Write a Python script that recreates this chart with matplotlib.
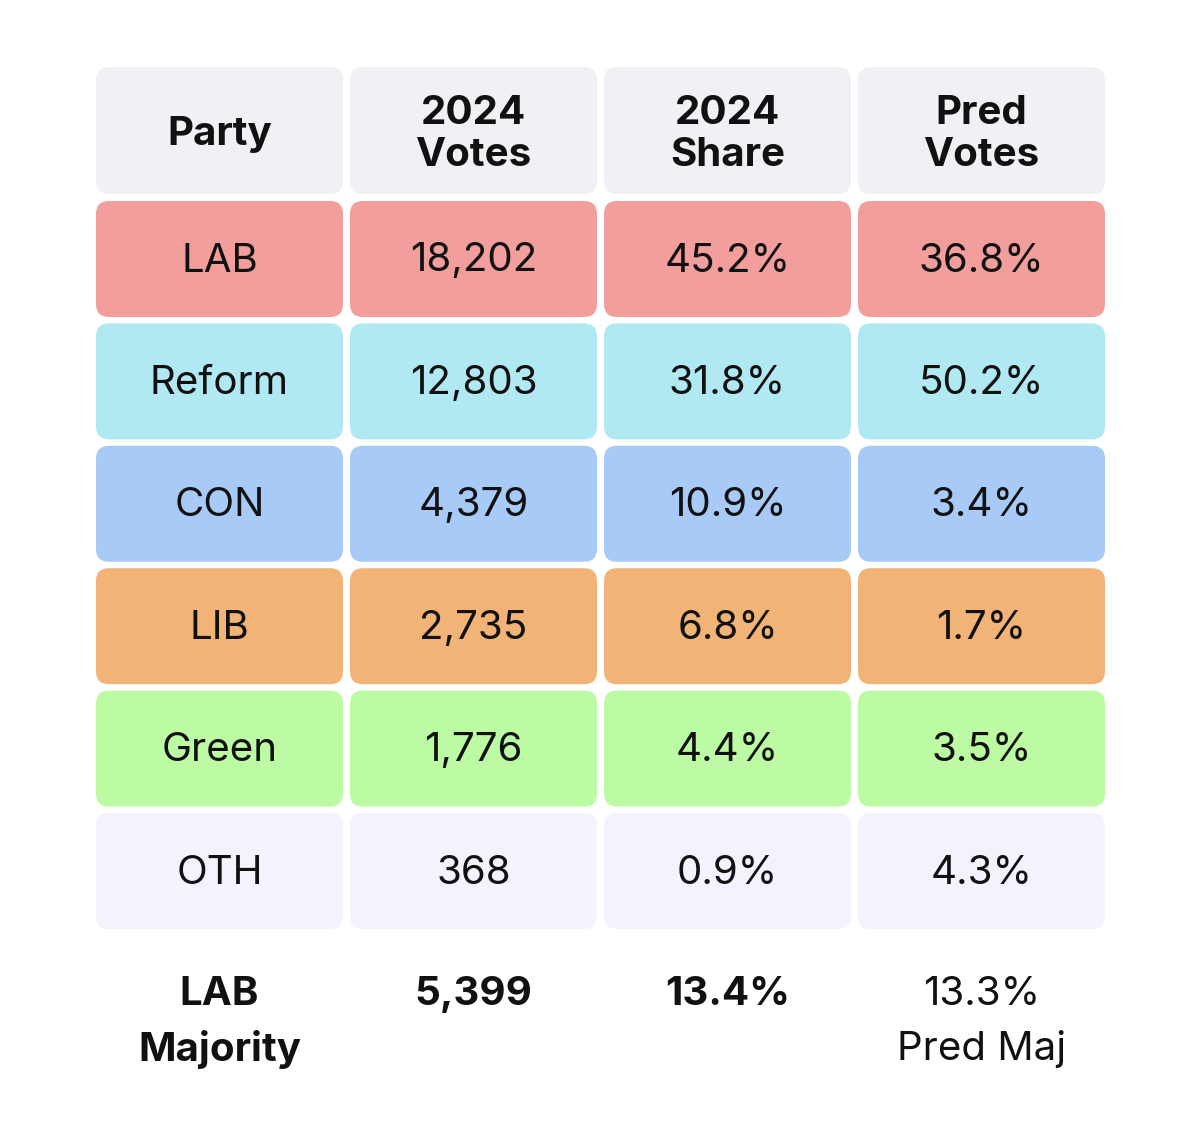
import matplotlib
matplotlib.use("Agg")
import matplotlib.pyplot as plt
from matplotlib.patches import FancyBboxPatch

plt.rcParams['font.family'] = ['Inter', 'DejaVu Sans']

headers = ["Party", "2024\nVotes", "2024\nShare", "Pred\nVotes"]
parties = ["LAB", "Reform", "CON", "LIB", "Green", "OTH"]
votes_2024 = ["18,202", "12,803", "4,379", "2,735", "1,776", "368"]
share_2024 = ["45.2%", "31.8%", "10.9%", "6.8%", "4.4%", "0.9%"]
pred_votes = ["36.8%", "50.2%", "3.4%", "1.7%", "3.5%", "4.3%"]
row_colors = ["#F29E9D", "#B1E9F3", "#A7CBF6", "#F2B476", "#BCFBA3", "#F4F2FD"]
header_color = "#F0F1F4"
footer = ["LAB\nMajority", "5,399", "13.4%", "13.3%\nPred Maj"]
footer_bold = [True, True, True, False]

W, H = 1200, 1134
fig = plt.figure(figsize=(W / 100, H / 100), dpi=100)
ax = fig.add_axes([0, 0, 1, 1])
ax.set_xlim(0, W)
ax.set_ylim(H, 0)
ax.axis('off')

col_x = [96, 350, 604, 858]
col_w = 247
header_y, header_h = 67, 127
row_y0, row_h, row_step = 201, 116, 122.4
rad = 13

def cell(x, y, w, h, color):
    p = FancyBboxPatch((x + rad, y + rad), w - 2 * rad, h - 2 * rad,
                       boxstyle=f"round,pad={rad}", fc=color, ec='none')
    ax.add_patch(p)

for j, htxt in enumerate(headers):
    cell(col_x[j], header_y, col_w, header_h, header_color)
    ax.text(col_x[j] + col_w / 2, header_y + header_h / 2 + 4, htxt,
            ha='center', va='center', fontsize=29, fontweight='bold',
            linespacing=1.18, color='#111111')

columns = [parties, votes_2024, share_2024, pred_votes]
for i in range(len(parties)):
    y = row_y0 + i * row_step
    for j in range(4):
        cell(col_x[j], y, col_w, row_h, row_colors[i])
        ax.text(col_x[j] + col_w / 2, y + row_h / 2 + 2, columns[j][i],
                ha='center', va='center', fontsize=29, color='#111111')

for j, ftxt in enumerate(footer):
    ax.text(col_x[j] + col_w / 2, 976, ftxt, ha='center', va='top',
            fontsize=29, fontweight='bold' if footer_bold[j] else 'normal',
            linespacing=1.55, color='#111111')

fig.savefig("out.png", dpi=100, facecolor='white')
